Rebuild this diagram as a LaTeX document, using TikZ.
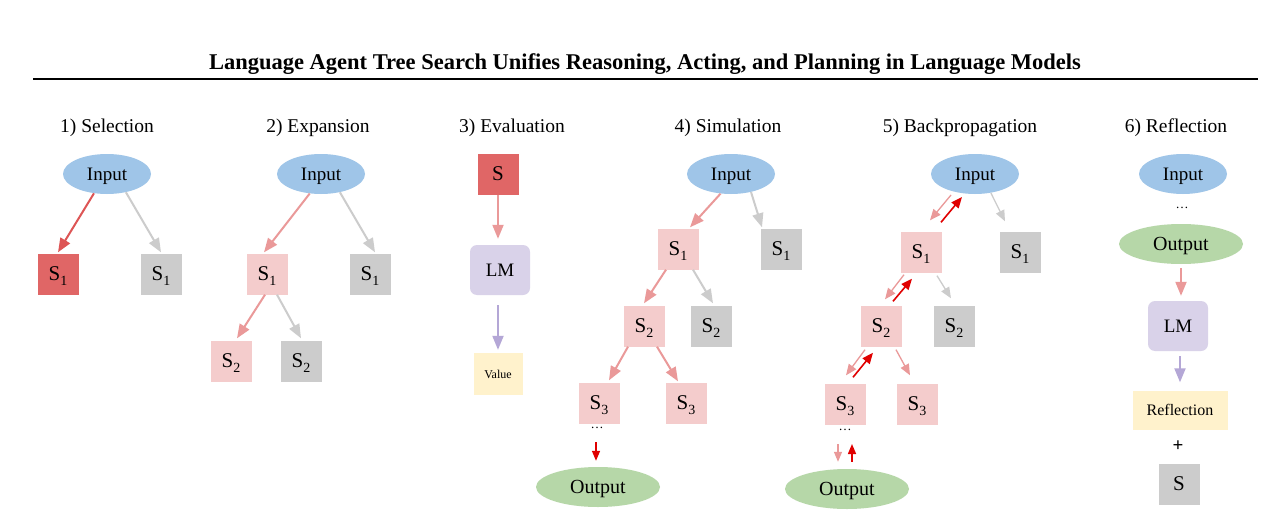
\documentclass[tikz,border=0pt]{standalone}
\usepackage{fontspec}
\setmainfont{Liberation Serif}
\usetikzlibrary{shapes.geometric,arrows.meta}
\definecolor{cblue}{HTML}{9FC5E8}
\definecolor{cred}{HTML}{E06666}
\definecolor{cpink}{HTML}{F4CCCC}
\definecolor{cgray}{HTML}{CCCCCC}
\definecolor{clav}{HTML}{D9D2E9}
\definecolor{cyel}{HTML}{FFF2CC}
\definecolor{cgreen}{HTML}{B6D7A8}
\definecolor{apink}{HTML}{EA9999}
\definecolor{ared}{HTML}{DD5555}
\definecolor{adark}{HTML}{E00000}
\definecolor{alav}{HTML}{B4A7D6}
\newcommand{\Sub}[1]{S\raisebox{-5pt}[0pt][0pt]{\fontsize{14}{14}\selectfont #1}}
\tikzset{
  every node/.style={font=\fontsize{19}{19}\selectfont, text=black},
  inell/.style={ellipse, fill=cblue, minimum width=88pt, minimum height=40pt, inner sep=0pt, text depth=0pt, font=\fontsize{19}{19}\selectfont},
  outell/.style={ellipse, fill=cgreen, minimum width=124pt, minimum height=40pt, inner sep=0pt, text depth=0pt, font=\fontsize{20}{20}\selectfont},
  sbox/.style={rectangle, minimum size=41pt, inner sep=0pt, font=\fontsize{21}{21}\selectfont},
  redbox/.style={sbox, fill=cred},
  pinkbox/.style={sbox, fill=cpink},
  graybox/.style={sbox, fill=cgray},
  lmbox/.style={rectangle, rounded corners=7pt, fill=clav, minimum width=60pt, minimum height=50pt, inner sep=0pt, font=\fontsize{19}{19}\selectfont},
  yelbox/.style={rectangle, fill=cyel, inner sep=0pt},
  sect/.style={font=\fontsize{19.5}{19.5}\selectfont},
  tip/.style={-{Triangle[length=14pt,width=11pt]}, line width=2pt},
  stip/.style={-{Triangle[length=11pt,width=9pt]}, line width=1.6pt},
  mtip/.style={-{Triangle[length=10pt,width=8pt]}, line width=1.5pt},
  aredl/.style={tip, draw=ared},
  apinkl/.style={tip, draw=apink},
  agrayl/.style={tip, draw=cgray},
  alavl/.style={tip, draw=alav},
  dots/.style={font=\fontsize{13}{13}\selectfont}
}
\begin{document}
\begin{tikzpicture}[x=1pt,y=-1pt]
\useasboundingbox[fill=white] (0,0) rectangle (1267,519);
% title
\node[font=\bfseries\fontsize{22.5}{22.5}\selectfont] (title) at (645,64) {Language Agent Tree Search Unifies Reasoning, Acting, and Planning in Language Models};
\draw[line width=2pt] (33,79) -- (1258,79);
% section titles
\node[sect] (t1) at (107,128) {1) Selection};
\node[sect] (t2) at (318,128) {2) Expansion};
\node[sect] (t3) at (512,128) {3) Evaluation};
\node[sect] (t4) at (728,128) {4) Simulation};
\node[sect] (t5) at (960,128) {5) Backpropagation};
\node[sect] (t6) at (1176,128) {6) Reflection};

% ---- panel 1
\node[inell] (in1) at (107,174) {Input};
\node[redbox] (p1a) at (58,274) {\Sub{1}};
\node[graybox] (p1b) at (161,274) {\Sub{1}};
\draw[aredl] (in1.-124) -- ([yshift=1pt]p1a.north);
\draw[agrayl] (in1.-44) -- ([yshift=1pt]p1b.north);

% ---- panel 2
\node[inell] (in2) at (321,174) {Input};
\node[pinkbox] (p2a) at (267,274) {\Sub{1}};
\node[graybox] (p2b) at (370,274) {\Sub{1}};
\node[pinkbox] (p2c) at (231,361) {\Sub{2}};
\node[graybox] (p2d) at (301,361) {\Sub{2}};
\draw[apinkl] (in2.-120) -- ([xshift=-3pt,yshift=1pt]p2a.north);
\draw[agrayl] (in2.-44) -- ([xshift=5pt,yshift=1pt]p2b.north);
\draw[apinkl] ([xshift=-2pt]p2a.south) -- ([xshift=6pt,yshift=2pt]p2c.north);
\draw[agrayl] ([xshift=10pt]p2a.south) -- ([yshift=2pt]p2d.north);

% ---- panel 3
\node[redbox] (p3s) at (498,174) {S};
\node[lmbox] (p3lm) at (500,270) {LM};
\node[yelbox, minimum width=49pt, minimum height=42pt, font=\fontsize{12}{12}\selectfont] (p3v) at (498,374) {Value};
\draw[apinkl] (p3s.south) -- ([xshift=-2pt,yshift=6pt]p3lm.north);
\draw[alavl] ([xshift=-2pt,yshift=-10pt]p3lm.south) -- ([yshift=3pt]p3v.north);

% ---- panel 4
\node[inell] (in4) at (731,174) {Input};
\node[pinkbox] (p4a) at (678,249) {\Sub{1}};
\node[graybox] (p4b) at (781,249) {\Sub{1}};
\node[pinkbox] (p4c) at (644,326) {\Sub{2}};
\node[graybox] (p4d) at (711,326) {\Sub{2}};
\node[pinkbox] (p4e) at (599,403) {\Sub{3}};
\node[pinkbox] (p4f) at (686,403) {\Sub{3}};
\node[dots] (p4dots) at (597,428) {\dots};
\node[outell] (out4) at (598,487) {Output};
\coordinate (p4t) at (596,442);
\draw[apinkl] (in4.-118) -- ([xshift=12pt,yshift=1pt]p4a.north);
\draw[agrayl] (in4.-42) -- ([xshift=-19pt,yshift=1pt]p4b.north);
\draw[apinkl] ([xshift=-12pt]p4a.south) -- ([xshift=0pt,yshift=2pt]p4c.north);
\draw[agrayl] ([xshift=15pt]p4a.south) -- ([xshift=2pt,yshift=2pt]p4d.north);
\draw[apinkl] ([xshift=-16pt]p4c.south) -- ([xshift=10pt,yshift=2pt]p4e.north);
\draw[apinkl] ([xshift=13pt]p4c.south) -- ([xshift=-8pt,yshift=1pt]p4f.north);
\draw[mtip, draw=adark] (p4t) -- ([xshift=-2pt,yshift=6pt]out4.north);

% ---- panel 5
\node[inell] (in5) at (975,174) {Input};
\node[pinkbox] (p5a) at (921,252) {\Sub{1}};
\node[graybox] (p5b) at (1020,252) {\Sub{1}};
\node[pinkbox] (p5c) at (881,326) {\Sub{2}};
\node[graybox] (p5d) at (954,326) {\Sub{2}};
\node[pinkbox] (p5e) at (845,404) {\Sub{3}};
\node[pinkbox] (p5f) at (917,404) {\Sub{3}};
\node[dots] (p5dots) at (845,430) {\dots};
\node[outell] (out5) at (847,489) {Output};
\coordinate (p5t1) at (838,444);
\coordinate (p5t2) at (852,444);
% input <-> S1
\draw[stip, line width=1.3pt, draw=apink] ([xshift=-24pt,yshift=-21pt]in5.center) -- ([xshift=9pt,yshift=11pt]p5a.north);
\draw[stip, draw=adark] ([xshift=20pt,yshift=9pt]p5a.north) -- ([xshift=-13pt,yshift=-23pt]in5.center);
\draw[stip, line width=1.3pt, draw=cgray] (in5.-50) -- ([xshift=-15pt,yshift=10pt]p5b.north);
% S1 <-> S2
\draw[stip, line width=1.3pt, draw=apink] ([xshift=-17pt,yshift=-2pt]p5a.south) -- ([xshift=4pt,yshift=6pt]p5c.north);
\draw[stip, draw=adark] ([xshift=12pt,yshift=4pt]p5c.north) -- ([xshift=-9pt,yshift=-6pt]p5a.south);
\draw[stip, line width=1.3pt, draw=cgray] ([xshift=16pt,yshift=-3pt]p5a.south) -- ([xshift=-3pt,yshift=7pt]p5d.north);
% S2 <-> S3
\draw[stip, line width=1.3pt, draw=apink] ([xshift=-16pt,yshift=-3pt]p5c.south) -- ([xshift=1pt,yshift=8pt]p5e.north);
\draw[stip, draw=adark] ([xshift=8pt,yshift=6pt]p5e.north) -- ([xshift=-8pt,yshift=-6pt]p5c.south);
\draw[stip, line width=1.3pt, draw=apink] ([xshift=15pt,yshift=-3pt]p5c.south) -- ([xshift=-7pt,yshift=8pt]p5f.north);
% output
\draw[mtip, line width=1.2pt, draw=apink] (p5t1) -- ([xshift=-9pt,yshift=7pt]out5.north);
\draw[mtip, draw=adark] ([xshift=5pt,yshift=7pt]out5.north) -- (p5t2);

% ---- panel 6
\node[inell] (in6) at (1183,174) {Input};
\node[dots] (p6dots) at (1182,208) {\dots};
\node[outell] (out6) at (1181,244) {Output};
\node[lmbox] (p6lm) at (1178,326) {LM};
\node[yelbox, minimum width=95pt, minimum height=39pt, font=\fontsize{16}{16}\selectfont] (p6r) at (1180,410) {Reflection};
\node[font=\bfseries\fontsize{19}{19}\selectfont] (p6plus) at (1178,446) {+};
\node[graybox] (p6s) at (1179,484) {S};
\draw[apinkl] ([yshift=-4pt]out6.south) -- ([xshift=3pt,yshift=5pt]p6lm.north);
\draw[alavl] ([xshift=2pt,yshift=-5pt]p6lm.south) -- ([yshift=8pt]p6r.north);
\end{tikzpicture}
\end{document}
